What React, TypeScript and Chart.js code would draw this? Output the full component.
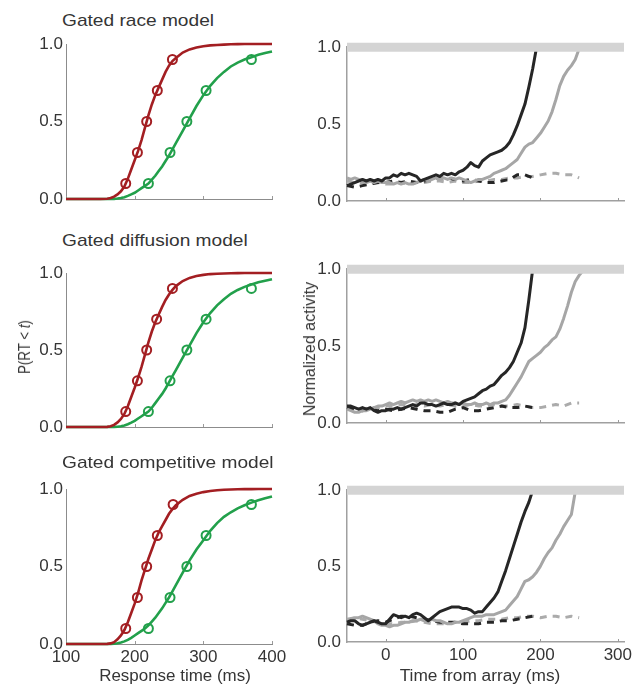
import React, { useEffect, useRef } from "react";
import { Chart, registerables } from "chart.js";

Chart.register(...registerables);

const FONT = "'Liberation Sans', Arial, Helvetica, sans-serif";

// ---------- Left column: cumulative RT distributions ----------
const rtGrid = [100, 110, 120, 130, 140, 150, 160, 165, 170, 175, 180, 185, 190, 195, 200, 205, 210, 215, 220, 225, 230, 235, 240, 245, 250, 255, 260, 270, 280, 290, 300, 310, 320, 330, 340, 350, 360, 370, 380, 390, 400];
const quantileLevels = [0.1, 0.3, 0.5, 0.7, 0.9];
const rtTicks = [100, 200, 300, 400];
const rtRange = [100, 400];
const probTicks = [0, 0.5, 1];

const raceRedCdf = [0, 0, 0, 0, 0, 0, 0.002, 0.006, 0.015, 0.03, 0.05, 0.08, 0.13, 0.19, 0.25, 0.31, 0.38, 0.46, 0.54, 0.61, 0.67, 0.72, 0.77, 0.82, 0.86, 0.89, 0.91, 0.945, 0.965, 0.978, 0.986, 0.991, 0.994, 0.996, 0.998, 0.999, 1, 1, 1, 1, 1];
const raceGreenCdf = [0, 0, 0, 0, 0, 0, 0, 0, 0.001, 0.003, 0.006, 0.012, 0.02, 0.03, 0.04, 0.055, 0.07, 0.085, 0.1, 0.125, 0.15, 0.18, 0.21, 0.245, 0.28, 0.32, 0.36, 0.44, 0.52, 0.6, 0.67, 0.73, 0.78, 0.82, 0.855, 0.88, 0.9, 0.915, 0.93, 0.942, 0.952];
const raceRedQuant = [187, 204, 217.5, 233, 255];
const raceGreenQuant = [220, 251.5, 276, 304, 370];

const diffRedCdf = [0, 0, 0, 0, 0, 0, 0.001, 0.005, 0.014, 0.03, 0.052, 0.085, 0.135, 0.195, 0.255, 0.32, 0.39, 0.47, 0.55, 0.62, 0.68, 0.73, 0.78, 0.825, 0.86, 0.89, 0.915, 0.948, 0.968, 0.98, 0.988, 0.993, 0.995, 0.997, 0.998, 0.999, 1, 1, 1, 1, 1];
const diffGreenCdf = [0, 0, 0, 0, 0, 0, 0, 0, 0.001, 0.002, 0.005, 0.01, 0.018, 0.028, 0.04, 0.055, 0.07, 0.085, 0.1, 0.125, 0.155, 0.185, 0.215, 0.25, 0.29, 0.33, 0.37, 0.45, 0.53, 0.61, 0.68, 0.74, 0.79, 0.83, 0.865, 0.89, 0.91, 0.925, 0.94, 0.95, 0.96];
const diffRedQuant = [187, 204, 217.5, 232, 255];
const diffGreenQuant = [220, 251.5, 276, 304, 370];

const compRedCdf = [0, 0, 0, 0, 0, 0, 0.001, 0.004, 0.012, 0.03, 0.055, 0.09, 0.14, 0.2, 0.26, 0.33, 0.41, 0.48, 0.55, 0.61, 0.67, 0.72, 0.76, 0.8, 0.84, 0.87, 0.895, 0.93, 0.955, 0.97, 0.98, 0.987, 0.992, 0.995, 0.997, 0.998, 0.999, 0.999, 1, 1, 1];
const compGreenCdf = [0, 0, 0, 0, 0, 0, 0, 0, 0.002, 0.005, 0.01, 0.017, 0.027, 0.04, 0.055, 0.07, 0.085, 0.1, 0.12, 0.145, 0.17, 0.2, 0.23, 0.265, 0.3, 0.34, 0.38, 0.46, 0.54, 0.61, 0.67, 0.73, 0.78, 0.82, 0.85, 0.875, 0.895, 0.912, 0.927, 0.94, 0.952];
const compRedQuant = [187, 204, 217.5, 233, 256];
const compGreenQuant = [220, 251.5, 276, 304, 370];

// ---------- Right column: normalized activity ----------
const timeFine = [-50, -45, -40, -35, -30, -25, -20, -15, -10, -5, 0, 5, 10, 15, 20, 25, 30, 35, 40, 45, 50, 55, 60, 65, 70, 75, 80, 85, 90, 95, 100, 105, 110, 115, 120, 125, 130, 135, 140, 145, 150, 155, 160, 165, 170, 175, 180, 185, 190, 195, 200, 205, 210, 215, 220, 225, 230, 235, 240, 245, 250, 255];
const timeCoarse = [-50, -40, -30, -20, -10, 0, 10, 20, 30, 40, 50, 60, 70, 80, 90, 100, 110, 120, 130, 140, 150, 160, 170, 180, 190, 200, 210, 220, 230, 240, 250];
const timeTicks = [0, 100, 200, 300];
const timeRange = [-50, 308];
const thresholdLevel = 1.0;

const raceBlackSolid = [0.10, 0.11, 0.12, 0.13, 0.14, 0.13, 0.14, 0.13, 0.14, 0.13, 0.15, 0.15, 0.17, 0.16, 0.18, 0.17, 0.18, 0.17, 0.16, 0.13, 0.14, 0.15, 0.16, 0.17, 0.16, 0.18, 0.17, 0.18, 0.17, 0.19, 0.20, 0.22, 0.25, 0.23, 0.22, 0.26, 0.28, 0.30, 0.31, 0.32, 0.33, 0.35, 0.38, 0.43, 0.49, 0.56, 0.63, 0.74, 0.86, 1.0];
const raceGraySolid = [0.15, 0.14, 0.15, 0.14, 0.13, 0.12, 0.13, 0.12, 0.13, 0.12, 0.12, 0.12, 0.11, 0.12, 0.11, 0.12, 0.11, 0.11, 0.12, 0.13, 0.14, 0.13, 0.14, 0.15, 0.14, 0.15, 0.14, 0.15, 0.14, 0.15, 0.14, 0.13, 0.12, 0.13, 0.14, 0.14, 0.15, 0.16, 0.18, 0.19, 0.20, 0.21, 0.23, 0.25, 0.27, 0.31, 0.35, 0.37, 0.38, 0.41, 0.44, 0.48, 0.52, 0.58, 0.66, 0.75, 0.81, 0.85, 0.88, 0.92, 0.99];
const raceBlackDash = [0.10, 0.09, 0.10, 0.11, 0.12, 0.12, 0.13, 0.12, 0.13, 0.12, 0.13, 0.14, 0.15, 0.15, 0.14, 0.13, 0.14, 0.13, 0.12, 0.12, 0.13, 0.14, 0.17, 0.17, 0.15];
const raceGrayDash = [0.13, 0.12, 0.12, 0.11, 0.12, 0.11, 0.11, 0.12, 0.11, 0.12, 0.12, 0.13, 0.13, 0.12, 0.13, 0.12, 0.12, 0.13, 0.13, 0.14, 0.14, 0.15, 0.15, 0.16, 0.16, 0.17, 0.18, 0.18, 0.17, 0.17, 0.15];

const diffBlackSolid = [0.11, 0.11, 0.10, 0.09, 0.10, 0.09, 0.10, 0.08, 0.07, 0.08, 0.08, 0.09, 0.09, 0.10, 0.09, 0.10, 0.11, 0.12, 0.11, 0.13, 0.13, 0.12, 0.12, 0.11, 0.12, 0.13, 0.12, 0.12, 0.13, 0.12, 0.14, 0.15, 0.16, 0.17, 0.19, 0.21, 0.22, 0.24, 0.25, 0.28, 0.31, 0.33, 0.36, 0.40, 0.46, 0.52, 0.62, 0.80, 1.0];
const diffGraySolid = [0.09, 0.08, 0.07, 0.07, 0.08, 0.08, 0.09, 0.10, 0.11, 0.11, 0.12, 0.13, 0.12, 0.13, 0.14, 0.13, 0.14, 0.15, 0.14, 0.15, 0.14, 0.15, 0.14, 0.15, 0.14, 0.13, 0.14, 0.13, 0.13, 0.12, 0.13, 0.12, 0.12, 0.13, 0.12, 0.12, 0.13, 0.12, 0.13, 0.13, 0.14, 0.15, 0.18, 0.22, 0.26, 0.30, 0.35, 0.40, 0.42, 0.44, 0.46, 0.49, 0.51, 0.54, 0.56, 0.61, 0.68, 0.76, 0.85, 0.92, 0.96, 0.99];
const diffBlackDash = [0.10, 0.09, 0.08, 0.09, 0.08, 0.09, 0.08, 0.09, 0.10, 0.09, 0.08, 0.08, 0.07, 0.07, 0.09, 0.10, 0.08, 0.08, 0.09, 0.10, 0.11, 0.10, 0.10, 0.11, 0.10];
const diffGrayDash = [0.10, 0.09, 0.09, 0.10, 0.10, 0.11, 0.11, 0.12, 0.11, 0.12, 0.11, 0.12, 0.11, 0.12, 0.11, 0.11, 0.12, 0.11, 0.11, 0.12, 0.11, 0.11, 0.12, 0.11, 0.10, 0.10, 0.11, 0.12, 0.11, 0.13, 0.13];

const compBlackSolid = [0.13, 0.14, 0.14, 0.12, 0.11, 0.12, 0.13, 0.14, 0.13, 0.12, 0.12, 0.15, 0.18, 0.17, 0.16, 0.17, 0.16, 0.18, 0.19, 0.18, 0.16, 0.14, 0.16, 0.18, 0.20, 0.21, 0.22, 0.23, 0.23, 0.23, 0.22, 0.22, 0.21, 0.19, 0.20, 0.20, 0.23, 0.26, 0.29, 0.33, 0.40, 0.47, 0.55, 0.63, 0.71, 0.79, 0.86, 0.92, 1.0];
const compGraySolid = [0.13, 0.15, 0.16, 0.16, 0.17, 0.16, 0.15, 0.14, 0.12, 0.11, 0.11, 0.10, 0.11, 0.11, 0.12, 0.13, 0.13, 0.14, 0.14, 0.15, 0.14, 0.14, 0.15, 0.14, 0.14, 0.13, 0.12, 0.12, 0.13, 0.13, 0.14, 0.15, 0.16, 0.17, 0.17, 0.17, 0.18, 0.18, 0.18, 0.19, 0.20, 0.21, 0.24, 0.27, 0.30, 0.35, 0.40, 0.41, 0.43, 0.46, 0.50, 0.55, 0.59, 0.62, 0.67, 0.71, 0.76, 0.80, 0.84, 0.99];
const compBlackDash = [0.12, 0.11, 0.11, 0.13, 0.14, 0.13, 0.15, 0.17, 0.17, 0.16, 0.15, 0.14, 0.13, 0.13, 0.13, 0.12, 0.12, 0.12, 0.13, 0.13, 0.14, 0.14, 0.15, 0.16, 0.17];
const compGrayDash = [0.15, 0.16, 0.15, 0.14, 0.13, 0.12, 0.12, 0.13, 0.13, 0.14, 0.13, 0.12, 0.12, 0.12, 0.13, 0.13, 0.14, 0.14, 0.15, 0.15, 0.15, 0.16, 0.16, 0.17, 0.17, 0.16, 0.17, 0.17, 0.16, 0.17, 0.16];

// ---------- styling ----------
const RED = "#a31e22";
const GREEN = "#22a04b";
const BLACK = "#262626";
const GRAY = "#a6a6a6";
const BAND = "#d4d4d4";
const TEXT = "#353535";
const TICK_FONT = { family: FONT, size: 17 };

const ML = 60;
const MR = 26;
const MT = 14;
const MB = 32;

const pts = (xs: number[], ys: number[]) => ys.map((y, i) => ({ x: xs[i], y }));

const innerTicks = {
  id: "innerTicks",
  beforeDatasetsDraw(chart: any) {
    const { ctx, chartArea } = chart;
    const xs = chart.scales.x;
    ctx.save();
    ctx.strokeStyle = "#9a9a9a";
    ctx.lineWidth = 1;
    xs.ticks.forEach((t: any) => {
      const px = Math.round(xs.getPixelForValue(t.value)) + 0.5;
      ctx.beginPath();
      ctx.moveTo(px, chartArea.bottom);
      ctx.lineTo(px, chartArea.bottom - 3);
      ctx.stroke();
    });
    ctx.restore();
  },
};

type Box = { left: number; top: number; right: number; bottom: number };

function Panel(props: {
  box: Box;
  datasets: any[];
  xRange: number[];
  xTickValues: number[];
  showXLabels: boolean;
  axisColor: string;
  axisWidth: number;
  yPad: number;
}) {
  const { box, datasets, xRange, xTickValues, showXLabels, axisColor, axisWidth, yPad } = props;
  const ref = useRef<HTMLCanvasElement | null>(null);
  const w = box.right - box.left + ML + MR;
  const h = box.bottom - box.top + MT + MB;
  useEffect(() => {
    const chart = new Chart(ref.current as HTMLCanvasElement, {
      type: "line",
      data: { datasets },
      options: {
        animation: false,
        responsive: false,
        devicePixelRatio: 1,
        layout: { padding: { left: 0, right: MR, top: MT, bottom: 0 } },
        plugins: { legend: { display: false }, tooltip: { enabled: false } },
        elements: { point: { radius: 0 }, line: { tension: 0 } },
        scales: {
          x: {
            type: "linear",
            min: xRange[0],
            max: xRange[1],
            afterFit: (s: any) => {
              s.height = MB;
            },
            afterBuildTicks: (s: any) => {
              s.ticks = xTickValues.map((v) => ({ value: v }));
            },
            grid: { display: false, drawTicks: false },
            border: { display: true, color: axisColor, width: axisWidth },
            ticks: {
              display: showXLabels,
              padding: 3,
              color: TEXT,
              font: TICK_FONT,
              maxRotation: 0,
              autoSkip: false,
              callback: (v: any) => String(v),
            },
          },
          y: {
            type: "linear",
            min: 0,
            max: 1,
            afterFit: (s: any) => {
              s.width = ML;
            },
            afterBuildTicks: (s: any) => {
              s.ticks = probTicks.map((v) => ({ value: v }));
            },
            grid: { display: false, drawTicks: false },
            border: { display: true, color: axisColor, width: axisWidth },
            ticks: {
              padding: yPad,
              color: TEXT,
              font: TICK_FONT,
              callback: (v: any) => Number(v).toFixed(1),
            },
          },
        },
      } as any,
      plugins: [innerTicks],
    });
    return () => chart.destroy();
  }, []);
  return (
    <canvas
      ref={ref}
      width={w}
      height={h}
      style={{ position: "absolute", left: box.left - ML, top: box.top - MT, width: w, height: h }}
    />
  );
}

function rtDatasets(red: number[], green: number[], redQ: number[], greenQ: number[]) {
  const circle = (xs: number[], color: string, order: number) => ({
    data: pts(xs, quantileLevels),
    showLine: false,
    pointRadius: 4.5,
    pointBorderWidth: 2,
    pointBorderColor: color,
    pointBackgroundColor: "rgba(0,0,0,0)",
    clip: false,
    order,
  });
  const curve = (ys: number[], color: string, order: number) => ({
    data: pts(rtGrid, ys),
    borderColor: color,
    borderWidth: 2.6,
    pointRadius: 0,
    clip: false,
    order,
  });
  return [circle(redQ, RED, 0), circle(greenQ, GREEN, 1), curve(red, RED, 2), curve(green, GREEN, 3)];
}

function activityDatasets(bs: number[], gs: number[], bd: number[], gd: number[]) {
  const line = (xs: number[], ys: number[], color: string, dash: number[], order: number) => ({
    data: pts(xs, ys),
    borderColor: color,
    borderWidth: 3,
    borderDash: dash,
    borderJoinStyle: "round",
    pointRadius: 0,
    clip: false,
    order,
  });
  return [
    {
      data: pts(timeRange, [thresholdLevel, thresholdLevel]),
      borderColor: BAND,
      borderWidth: 9,
      borderCapStyle: "butt",
      pointRadius: 0,
      clip: false,
      order: 0,
    },
    line(timeFine, bs, BLACK, [], 1),
    line(timeFine, gs, GRAY, [], 2),
    line(timeCoarse, bd, BLACK, [7, 6], 3),
    line(timeCoarse, gd, "#ababab", [7, 6], 4),
  ];
}

const Txt = (p: { left: number; top: number; size: number; transform?: string; origin?: string; children: any }) => (
  <div
    style={{
      position: "absolute",
      left: p.left,
      top: p.top,
      fontSize: p.size,
      lineHeight: 1,
      fontFamily: FONT,
      color: TEXT,
      whiteSpace: "nowrap",
      transform: p.transform,
      transformOrigin: p.origin || "center",
    }}
  >
    {p.children}
  </div>
);

export default function App() {
  const L = { left: 66, right: 272 };
  const R = { left: 347, right: 624 };
  const leftAxis = { axisColor: "#8c8c8c", axisWidth: 1, yPad: 3 };
  const rightAxis = { axisColor: "#a0a0a0", axisWidth: 1.5, yPad: 6 };
  return (
    <div style={{ position: "absolute", left: 0, top: 0, width: 637, height: 686, overflow: "hidden", background: "#fff" }}>
      <Panel box={{ ...L, top: 44, bottom: 199 }} datasets={rtDatasets(raceRedCdf, raceGreenCdf, raceRedQuant, raceGreenQuant)} xRange={rtRange} xTickValues={rtTicks} showXLabels={false} {...leftAxis} />
      <Panel box={{ ...L, top: 273, bottom: 427 }} datasets={rtDatasets(diffRedCdf, diffGreenCdf, diffRedQuant, diffGreenQuant)} xRange={rtRange} xTickValues={rtTicks} showXLabels={false} {...leftAxis} />
      <Panel box={{ ...L, top: 489, bottom: 644 }} datasets={rtDatasets(compRedCdf, compGreenCdf, compRedQuant, compGreenQuant)} xRange={rtRange} xTickValues={rtTicks} showXLabels={true} {...leftAxis} />

      <Panel box={{ ...R, top: 45, bottom: 201 }} datasets={activityDatasets(raceBlackSolid, raceGraySolid, raceBlackDash, raceGrayDash)} xRange={timeRange} xTickValues={timeTicks} showXLabels={false} {...rightAxis} />
      <Panel box={{ ...R, top: 267, bottom: 423 }} datasets={activityDatasets(diffBlackSolid, diffGraySolid, diffBlackDash, diffGrayDash)} xRange={timeRange} xTickValues={timeTicks} showXLabels={false} {...rightAxis} />
      <Panel box={{ ...R, top: 488, bottom: 642 }} datasets={activityDatasets(compBlackSolid, compGraySolid, compBlackDash, compGrayDash)} xRange={timeRange} xTickValues={timeTicks} showXLabels={true} {...rightAxis} />

      <Txt left={62} top={12} size={17} transform="scaleX(1.125)" origin="left center">Gated race model</Txt>
      <Txt left={62} top={231.5} size={17} transform="scaleX(1.125)" origin="left center">Gated diffusion model</Txt>
      <Txt left={62} top={454} size={17} transform="scaleX(1.125)" origin="left center">Gated competitive model</Txt>

      <Txt left={175} top={668} size={16} transform="translateX(-50%) scaleX(1.06)">Response time (ms)</Txt>
      <Txt left={480} top={668} size={16} transform="translateX(-50%) scaleX(1.08)">Time from array (ms)</Txt>

      <Txt left={24.5} top={347} size={16} transform="translate(-50%, -50%) rotate(-90deg) scaleX(0.83)">
        P(RT &lt; <i>t</i>)
      </Txt>
      <Txt left={310} top={349} size={16} transform="translate(-50%, -50%) rotate(-90deg)">Normalized activity</Txt>
    </div>
  );
}
